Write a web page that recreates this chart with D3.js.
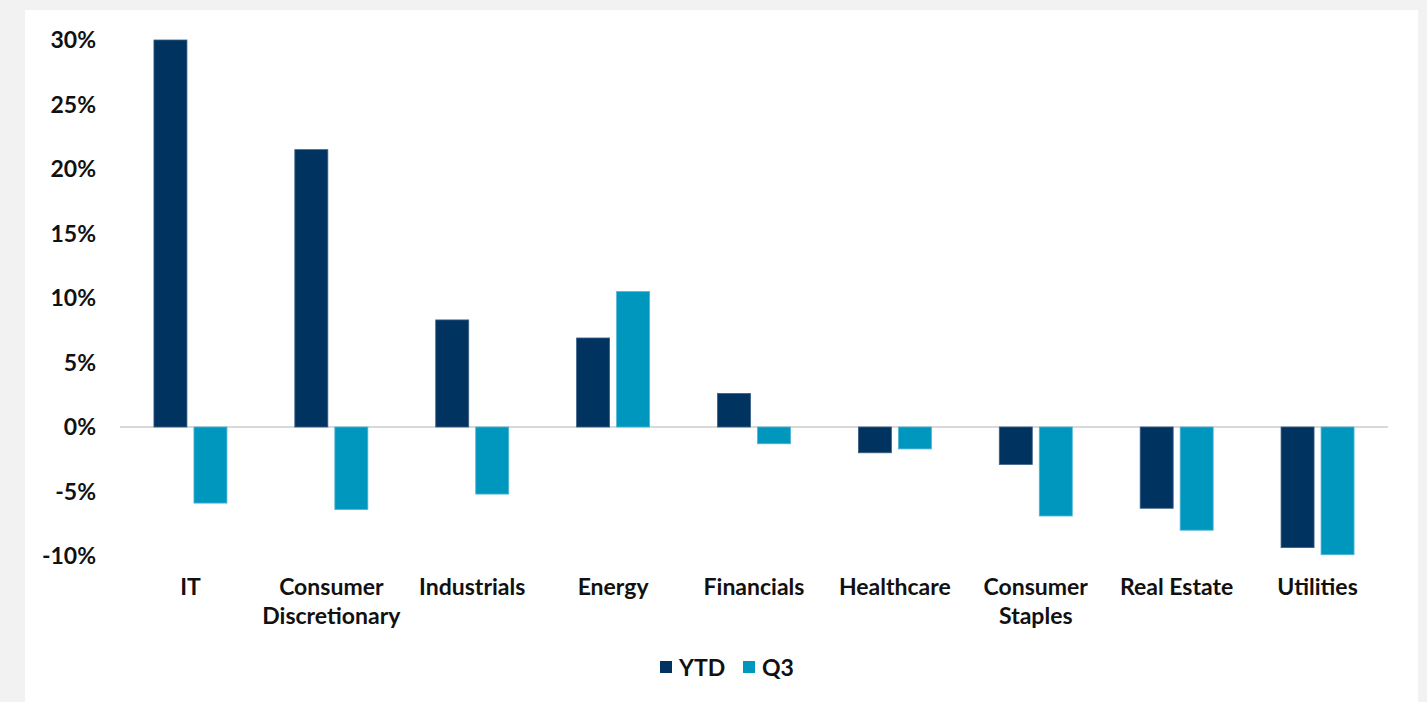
<!DOCTYPE html>
<html>
<head>
<meta charset="utf-8">
<script src="https://cdn.jsdelivr.net/npm/d3@7"></script>
<style>
  body { margin: 0; background: #f2f2f2; }
  svg { display: block; }
  text { font-family: Lato, "Open Sans", sans-serif; font-weight: 700; fill: #111; }
</style>
</head>
<body>
<script>
// sector returns, percent
const sectors = ['IT', 'Consumer Discretionary', 'Industrials', 'Energy', 'Financials',
  'Healthcare', 'Consumer Staples', 'Real Estate', 'Utilities']
const ytd = [30.0, 21.5, 8.3, 6.9, 2.6, -2.0, -2.9, -6.3, -9.35]
const q3 = [-5.9, -6.4, -5.2, 10.5, -1.3, -1.7, -6.9, -8.0, -9.9]
const yTicks = [30, 25, 20, 15, 10, 5, 0, -5, -10]
const seriesNames = ['YTD', 'Q3']

const fullWidth = 1427
const fullHeight = 702
const margin = { top: 40, right: 39, bottom: 146, left: 120 }
const ytdColor = '#00335f'
const q3Color = '#0097bf'
const fontSize = 23

const svg = d3.select('body').append('svg')
  .attr('width', fullWidth)
  .attr('height', fullHeight)

// white panel
svg.append('rect')
  .attr('x', 25).attr('y', 10)
  .attr('width', 1393).attr('height', fullHeight - 10)
  .attr('fill', '#fff')

const x = d3.scaleBand()
  .domain(sectors)
  .range([margin.left, fullWidth - margin.right])

const y = d3.scaleLinear()
  .domain([-10, 30])
  .range([fullHeight - margin.bottom, margin.top])

// y tick labels
svg.append('g')
  .selectAll('text')
  .data(yTicks)
  .enter().append('text')
  .attr('x', 96)
  .attr('y', d => y(d))
  .attr('dy', '0.35em')
  .attr('text-anchor', 'end')
  .attr('font-size', fontSize)
  .text(d => d + '%')

// zero line
svg.append('line')
  .attr('x1', margin.left).attr('x2', fullWidth - margin.right)
  .attr('y1', y(0)).attr('y2', y(0))
  .attr('stroke', '#d9d9d9')
  .attr('stroke-width', 2)

const barW = 33
const series = [
  { name: 'YTD', values: ytd, color: ytdColor, stroke: '#3b5f86', off: -20 },
  { name: 'Q3', values: q3, color: q3Color, stroke: '#4fb6d6', off: 20 }
]

series.forEach(s => {
  svg.append('g')
    .selectAll('rect')
    .data(sectors)
    .enter().append('rect')
    .attr('x', d => x(d) + x.bandwidth() / 2 + s.off - barW / 2)
    .attr('width', barW)
    .attr('y', (d, i) => Math.min(y(s.values[i]), y(0)))
    .attr('height', (d, i) => Math.abs(y(s.values[i]) - y(0)))
    .attr('fill', s.color)
    .attr('stroke', s.stroke)
    .attr('stroke-width', 0.8)
})

// category labels
const labels = {
  'Consumer Discretionary': ['Consumer', 'Discretionary'],
  'Consumer Staples': ['Consumer', 'Staples'],
  'Real Estate': ['Real Estate']
}
const cat = svg.append('g')
  .selectAll('text')
  .data(sectors)
  .enter().append('text')
  .attr('x', d => x(d) + x.bandwidth() / 2)
  .attr('y', 595)
  .attr('text-anchor', 'middle')
  .attr('font-size', fontSize)

cat.selectAll('tspan')
  .data(d => labels[d] || [d])
  .enter().append('tspan')
  .attr('x', function () { return this.parentNode.getAttribute('x') })
  .attr('dy', (d, i) => i ? 29 : 0)
  .text(d => d)

// legend
const legend = svg.append('g')
const legendItems = [
  { name: seriesNames[0], color: ytdColor, x: 660 },
  { name: seriesNames[1], color: q3Color, x: 743 }
]
legendItems.forEach(l => {
  legend.append('rect')
    .attr('x', l.x).attr('y', 661)
    .attr('width', 12).attr('height', 12)
    .attr('fill', l.color)
  legend.append('text')
    .attr('x', l.x + 19).attr('y', 676)
    .attr('font-size', fontSize)
    .text(l.name)
})
</script>
</body>
</html>
